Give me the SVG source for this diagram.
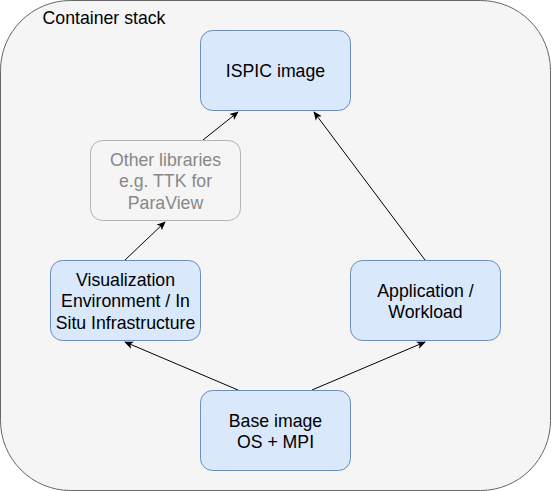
<svg xmlns="http://www.w3.org/2000/svg" width="551" height="491" viewBox="0 0 551 491">
<style>
text{font-family:"Liberation Sans",Arial,sans-serif;font-size:17.7px;fill:#000;text-anchor:middle}
.node{fill:#dae8fc;stroke:#6c8ebf;stroke-width:1}
.gray{fill:#f5f5f5;stroke:#b3b3b3;stroke-width:1}
.gtext{fill:#888888}
.edge{stroke:#000;stroke-width:1;fill:none;marker-end:url(#arr)}
</style>
<defs>
<marker id="arr" viewBox="0 0 10 10" refX="9" refY="5" markerWidth="9" markerHeight="9" markerUnits="userSpaceOnUse" orient="auto">
<path d="M0,0.8 L10,5 L0,9.2 L2.5,5 Z" fill="#000"/>
</marker>
</defs>
<g id="container">
<rect x="0.5" y="0.5" width="550" height="490" rx="70" ry="70" fill="#f5f5f5" stroke="#666666"/>
<text x="104" y="24" style="text-anchor:middle">Container stack</text>
</g>
<g id="connectors">
<path class="edge" d="M238,390 L125,342"/>
<path class="edge" d="M312,390 L425,342"/>
<path class="edge" d="M125,260 L165,222"/>
<path class="edge" d="M203,140 L238,112"/>
<path class="edge" d="M425,260 L314,112"/>
</g>
<g id="ispic">
<rect class="node" x="200.5" y="30.5" width="150" height="80" rx="12"/>
<text x="275.5" y="77">ISPIC image</text>
</g>
<g id="other">
<rect class="gray" x="90.5" y="140.5" width="150" height="80" rx="12"/>
<text class="gtext" x="165.5" y="165.5">Other libraries</text>
<text class="gtext" x="165.5" y="187">e.g. TTK for</text>
<text class="gtext" x="165.5" y="208.5">ParaView</text>
</g>
<g id="vis">
<rect class="node" x="50.5" y="260.5" width="150" height="80" rx="12"/>
<text x="125.5" y="285.5">Visualization</text>
<text x="125.5" y="307">Environment / In</text>
<text x="125.5" y="328.5">Situ Infrastructure</text>
</g>
<g id="app">
<rect class="node" x="350.5" y="260.5" width="150" height="80" rx="12"/>
<text x="425.5" y="296.5">Application /</text>
<text x="425.5" y="318">Workload</text>
</g>
<g id="base">
<rect class="node" x="200.5" y="390.5" width="150" height="80" rx="12"/>
<text x="275.5" y="426.5">Base image</text>
<text x="275.5" y="448">OS + MPI</text>
</g>
</svg>
